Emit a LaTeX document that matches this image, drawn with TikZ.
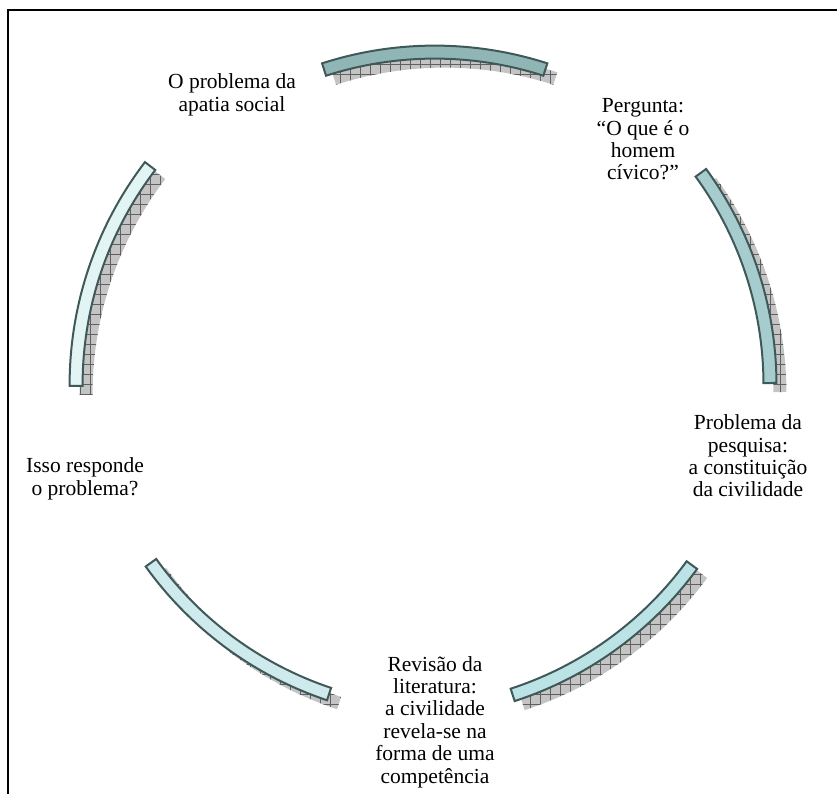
\documentclass[tikz,border=0pt]{standalone}
\usepackage{fontspec}
\setmainfont{Liberation Serif}
\usetikzlibrary{patterns.meta}

\definecolor{ringline}{RGB}{64,88,88}
\definecolor{ringA}{RGB}{143,182,181}
\definecolor{ringB}{RGB}{166,204,205}
\definecolor{ringC}{RGB}{187,226,229}
\definecolor{ringD}{RGB}{206,234,236}
\definecolor{ringE}{RGB}{227,244,244}
\definecolor{shadowgray}{RGB}{196,196,196}

\begin{document}
\begin{tikzpicture}[x=0.5pt,y=0.5pt,
	band/.style={draw=ringline, line width=1pt},
	bandshadow/.style={preaction={fill=shadowgray}, pattern={Hatch[distance=5pt,line width=0.35pt]}, pattern color=gray!75!black},
	steptext/.style={align=center, font=\fontsize{10.75}{11.2}\selectfont, inner sep=0pt}]
	\useasboundingbox (0,0) rectangle (837,794);
	
	%frame
	\draw[line width=1pt] (8,-5) -- (8,784) -- (842,784);
	
	%shadows
	\foreach \cx/\cy/\a/\b in {434.7/381.9/72.1/107.9, 410/409.1/0.3/36.1, 401.4/441.5/-72/-36.2, 443.3/441.3/215.7/251.5, 436.1/409.3/142.6/180.2}
		\path[bandshadow, xshift=5pt, yshift=-4.5pt] ([shift={(\a:366.5)}]\cx,\cy) arc[start angle=\a, end angle=\b, radius=366.5] -- ([shift={(\b:353.5)}]\cx,\cy) arc[start angle=\b, end angle=\a, radius=353.5] -- cycle;
	
	%arcs
	\foreach \cx/\cy/\a/\b/\col in {434.7/381.9/72.1/107.9/ringA, 410/409.1/0.3/36.1/ringB, 401.4/441.5/-72/-36.2/ringC, 443.3/441.3/215.7/251.5/ringD, 436.1/409.3/142.6/180.2/ringE}
		\draw[band, fill=\col] ([shift={(\a:366.5)}]\cx,\cy) arc[start angle=\a, end angle=\b, radius=366.5] -- ([shift={(\b:353.5)}]\cx,\cy) arc[start angle=\b, end angle=\a, radius=353.5] -- cycle;
	
	%steps
	\node[steptext] (apatia) at (232,699) {O problema da\\apatia social};
	\node[steptext] (pergunta) at (643,654.5) {Pergunta:\\“O que é o\\homem\\cívico?”};
	\node[steptext] (pesquisa) at (748,338) {Problema da\\pesquisa:\\a constituição\\da civilidade};
	\node[steptext] (revisao) at (435,72) {Revisão da\\literatura:\\a civilidade\\revela-se na\\forma de uma\\competência};
	\node[steptext] (responde) at (85,315) {Isso responde\\o problema?};
	
\end{tikzpicture}
\end{document}
